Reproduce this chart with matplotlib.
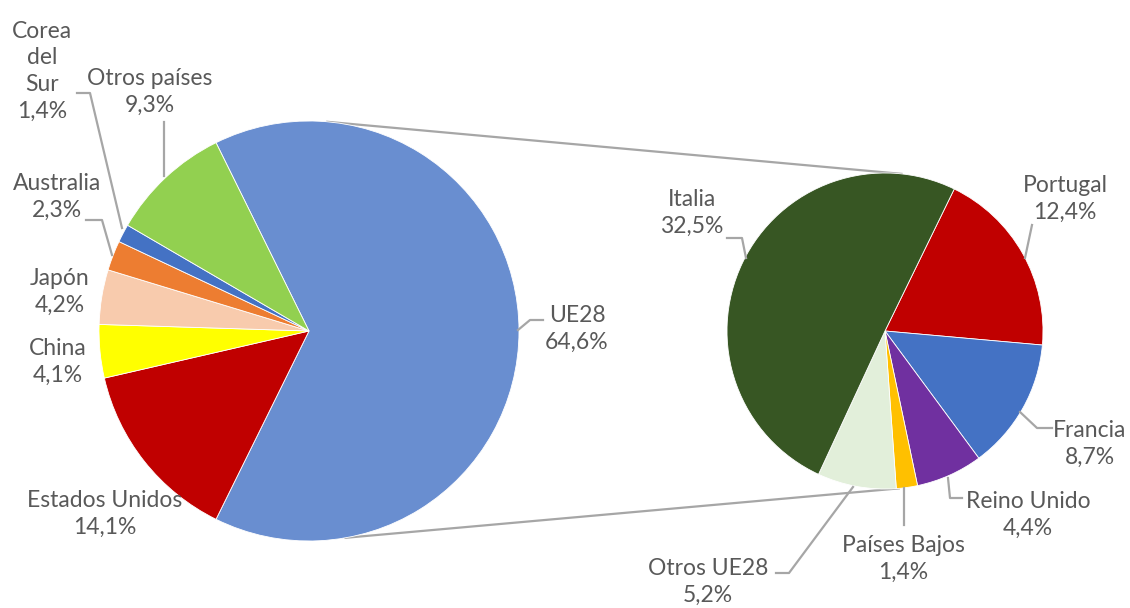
import matplotlib.pyplot as plt
import numpy as np

# datos
paises = ["UE28", "Estados Unidos", "China", "Japón", "Australia", "Corea\ndel\nSur", "Otros países"]
valores = [64.6, 14.1, 4.1, 4.2, 2.3, 1.4, 9.3]
colores = ["#698ED0", "#C00000", "#FFFF00", "#F8CBAD", "#ED7D31", "#4472C4", "#92D050"]

ue_paises = ["Portugal", "Francia", "Reino Unido", "Países Bajos", "Otros UE28", "Italia"]
ue_valores = [12.4, 8.7, 4.4, 1.4, 5.2, 32.5]
ue_colores = ["#C00000", "#4472C4", "#7030A0", "#FFC000", "#E2EFDA", "#375623"]

W, H = 1130, 608
GRIS = "#595959"
LINEA = "#A6A6A6"

plt.rcParams['font.family'] = ['Lato', 'DejaVu Sans']

fig = plt.figure(figsize=(W / 100, H / 100), dpi=100)
ax = fig.add_axes([0, 0, 1, 1])


def py(y):
    return H - y


c1, r1 = (309, py(331)), 210
c2, r2 = (885, py(331)), 158

ax.pie(valores, colors=colores, startangle=360 * valores[0] / 100 / 2, counterclock=False,
       center=c1, radius=r1, frame=True, wedgeprops=dict(linewidth=0.6, edgecolor="white"))
ax.pie(ue_valores, colors=ue_colores, startangle=64, counterclock=False,
       center=c2, radius=r2, frame=True, wedgeprops=dict(linewidth=0.6, edgecolor="white"))

# lineas de union
def punto(c, r, ang):
    a = np.radians(ang)
    return c[0] + r * np.cos(a), c[1] + r * np.sin(a)

for a1, a2 in [(85, 84), (-80, -85)]:
    p1 = punto(c1, r1, a1)
    p2 = punto(c2, r2, a2)
    ax.plot([p1[0], p2[0]], [p1[1], p2[1]], color=LINEA, lw=1.6, zorder=0)


def fmt(v):
    return f"{v:.1f}%".replace(".", ",")


etiquetas = dict(zip(paises, valores))
etiquetas.update(zip(ue_paises, ue_valores))

# posicion de cada etiqueta (x, y centro) y linea guia
pos = {
    "UE28": (577, 329, [(518, 330), (530, 320), (543, 320)]),
    "Estados Unidos": (105, 514, None),
    "China": (58, 362, None),
    "Japón": (60, 292, None),
    "Australia": (57, 197, [(86, 220), (102, 220), (112, 255)]),
    "Corea\ndel\nSur": (42, 71, [(77, 93), (90, 93), (122, 228)]),
    "Otros países": (150, 92, [(164, 122), (164, 176)]),
    "Italia": (692, 213, [(727, 238), (742, 238), (746, 258)]),
    "Portugal": (1065, 199, [(1032, 225), (1025, 258)]),
    "Francia": (1090, 444, [(1020, 412), (1037, 428), (1052, 428)]),
    "Reino Unido": (1028, 515, [(948, 478), (950, 498), (962, 498)]),
    "Países Bajos": (903, 559, [(904, 488), (904, 525)]),
    "Otros UE28": (708, 582, [(853, 487), (789, 573), (776, 573)]),
}

for nombre, (x, y, guia) in pos.items():
    ax.text(x, py(y), nombre + "\n" + fmt(etiquetas[nombre]), ha="center", va="center",
            fontsize=16.5, color=GRIS, linespacing=1.33)
    if guia:
        xs = [p[0] for p in guia]
        ys = [py(p[1]) for p in guia]
        ax.plot(xs, ys, color=LINEA, lw=1.6)

ax.set_xlim(0, W)
ax.set_ylim(0, H)
ax.set_aspect("equal")
ax.set_axis_off()

fig.savefig("out.png", dpi=100)
